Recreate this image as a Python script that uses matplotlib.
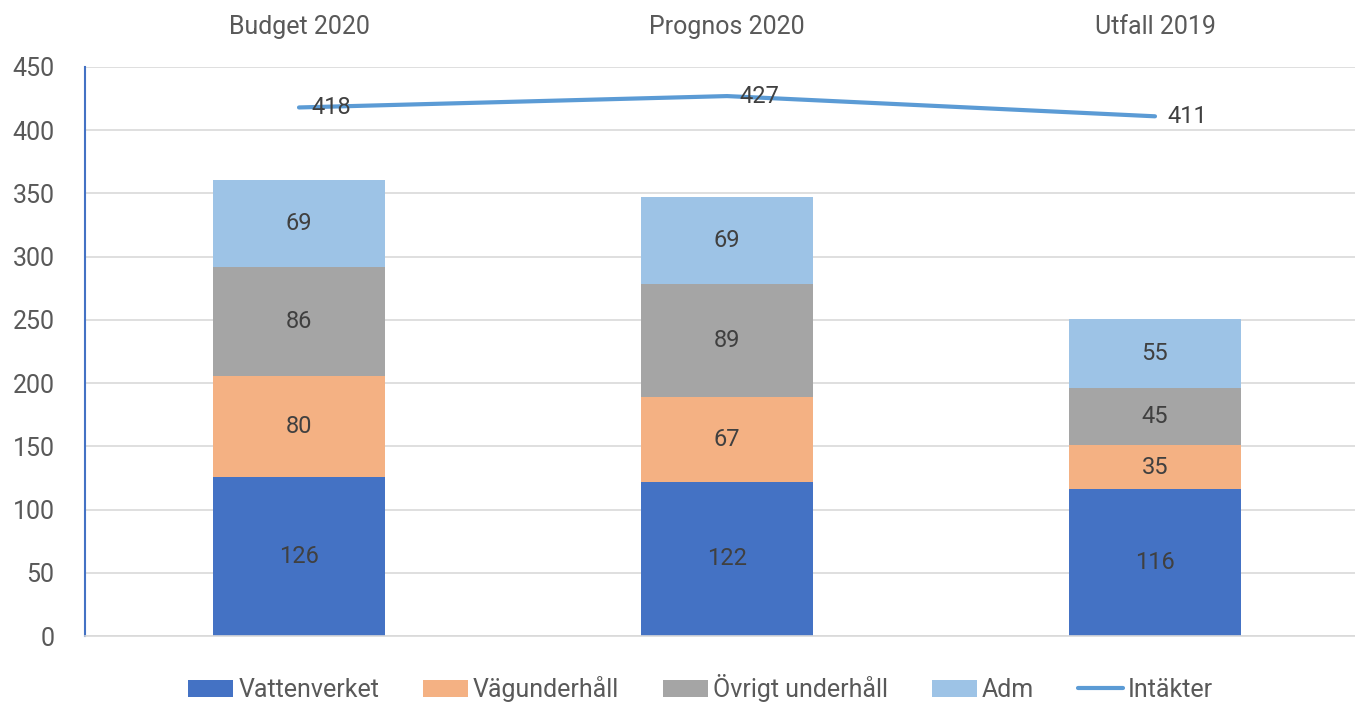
import matplotlib.pyplot as plt
import numpy as np

plt.rcParams['font.family'] = ['Roboto', 'DejaVu Sans']

categories = ['Budget 2020', 'Prognos 2020', 'Utfall 2019']
vattenverket = [126, 122, 116]
vagunderhall = [80, 67, 35]
ovrigt = [86, 89, 45]
adm = [69, 69, 55]
intakter = [418, 427, 411]

series = [
    ('Vattenverket', vattenverket, '#4472C4'),
    ('Vägunderhåll', vagunderhall, '#F4B183'),
    ('Övrigt underhåll', ovrigt, '#A5A5A5'),
    ('Adm', adm, '#9DC3E6'),
]

fig = plt.figure(figsize=(13.55, 7.03), dpi=100)
ax = fig.add_axes([85 / 1355, 1 - 636 / 703, 1284 / 1355, 569 / 703])

x = np.arange(len(categories))
bottom = np.zeros(len(categories))
handles = []
for name, vals, color in series:
    h = ax.bar(x, vals, 0.4, bottom=bottom, color=color, label=name, zorder=2)
    handles.append(h)
    for xi, b, v in zip(x, bottom, vals):
        ax.text(xi, b + v / 2, str(v), ha='center', va='center',
                fontsize=17, color='#404040', zorder=3)
    bottom += np.array(vals)

line, = ax.plot(x, intakter, color='#5B9BD5', lw=3, solid_capstyle='round',
                label='Intäkter', zorder=3)
handles.append(line)
for xi, v in zip(x, intakter):
    ax.text(xi + 0.075, v, str(v), ha='center', va='center',
            fontsize=17, color='#404040', zorder=4)

ax.set_xlim(-0.5, 2.5)
ax.set_ylim(0, 450)
ax.set_yticks(np.arange(0, 451, 50))
ax.yaxis.grid(True, color='#D9D9D9', lw=1.2, zorder=0)
ax.set_axisbelow(True)
ax.xaxis.tick_top()
ax.set_xticks(x)
ax.set_xticklabels(categories)
ax.tick_params(axis='x', length=0, pad=20, labelsize=18, labelcolor='#595959')
ax.tick_params(axis='y', length=0, pad=22, labelsize=18, labelcolor='#595959')
for s in ['top', 'right']:
    ax.spines[s].set_visible(False)
ax.spines['bottom'].set_color('#D9D9D9')
ax.spines['bottom'].set_linewidth(1.2)
ax.spines['left'].set_color('#4472C4')
ax.spines['left'].set_linewidth(1.5)

fig.legend(handles=handles, loc='center', bbox_to_anchor=(0.517, 1 - 688 / 703),
           ncol=5, frameon=False, fontsize=18, handlelength=1.8,
           handletextpad=0.2, columnspacing=1.75, labelcolor='#595959')

fig.savefig('out.png', dpi=100)
